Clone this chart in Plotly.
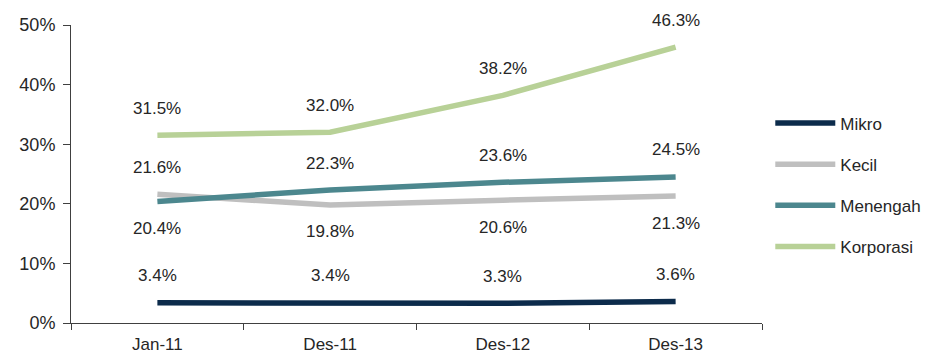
import plotly.graph_objects as go

# Periods on the category axis
periods = ["Jan-11", "Des-11", "Des-12", "Des-13"]

# Share by segment, in percent
mikro = [3.4, 3.4, 3.3, 3.6]
kecil = [21.6, 19.8, 20.6, 21.3]
menengah = [20.4, 22.3, 23.6, 24.5]
korporasi = [31.5, 32.0, 38.2, 46.3]

series_names = ["Mikro", "Kecil", "Menengah", "Korporasi"]
series_values = [mikro, kecil, menengah, korporasi]
series_colors = ["#0C2B4B", "#BFBFBF", "#4C878E", "#B8D197"]
# +1 puts the value label above the point, -1 below
label_sides = [
    [1, 1, 1, 1],
    [1, -1, -1, -1],
    [-1, 1, 1, 1],
    [1, 1, 1, 1],
]

FONT = "Liberation Sans, Arial, sans-serif"
TEXT_COLOR = "#262626"

fig = go.Figure()
annotations = []
for i, (name, vals, color, sides) in enumerate(
    zip(series_names, series_values, series_colors, label_sides)
):
    fig.add_trace(
        go.Scatter(
            x=periods,
            y=vals,
            name=name,
            mode="lines",
            legendgroup=name,
            line=dict(color=color, width=5.5),
            hoverinfo="skip",
        )
    )
    for p, v, s in zip(periods, vals, sides):
        annotations.append(
            dict(
                x=p,
                y=v,
                xref="x",
                yref="y",
                text=f"{v:.1f}%",
                showarrow=False,
                yshift=27 * s,
                font=dict(family=FONT, size=17, color=TEXT_COLOR),
            )
        )

fig.update_layout(
    width=938,
    height=356,
    margin=dict(l=71, r=176, t=25, b=33, autoexpand=False),
    paper_bgcolor="white",
    plot_bgcolor="white",
    font=dict(family=FONT, size=17, color=TEXT_COLOR),
    showlegend=True,
    legend=dict(
        x=1.012,
        y=0.463,
        xanchor="left",
        yanchor="middle",
        bgcolor="rgba(0,0,0,0)",
        font=dict(family=FONT, size=17, color=TEXT_COLOR),
        tracegroupgap=16,
        itemwidth=60,
    ),
    annotations=annotations,
)

fig.update_xaxes(
    type="category",
    range=[-0.5, 3.5],
    automargin=False,
    showgrid=False,
    zeroline=False,
    showline=True,
    linecolor="#404040",
    linewidth=1,
    ticks="outside",
    tickson="boundaries",
    ticklen=6,
    tickcolor="#404040",
    ticklabelstandoff=6,
    tickfont=dict(family=FONT, size=17, color=TEXT_COLOR),
)

fig.update_yaxes(
    range=[0, 50],
    dtick=10,
    ticksuffix="%",
    automargin=False,
    showgrid=False,
    zeroline=False,
    showline=True,
    linecolor="#404040",
    linewidth=1,
    ticks="outside",
    ticklen=7,
    tickcolor="#404040",
    ticklabelstandoff=4,
    tickfont=dict(family=FONT, size=18, color=TEXT_COLOR),
)

fig.write_html("out.html")
